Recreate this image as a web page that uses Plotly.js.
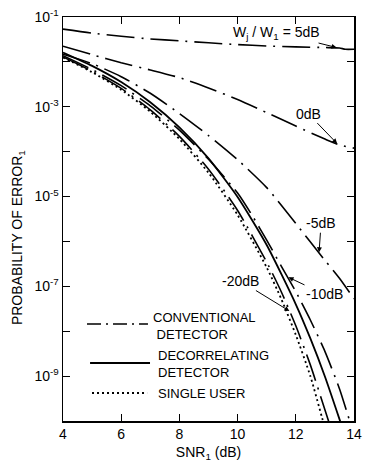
<!DOCTYPE html>
<html>
<head>
<meta charset="utf-8">
<script src="https://cdn.plot.ly/plotly-3.0.1.min.js"></script>
<style>
  html, body { margin: 0; padding: 0; background: #fff; }
  #chart { width: 365px; height: 462px; }
</style>
</head>
<body>
<div id="chart"></div>
<script>
// ---- data ----
const snrConv5 = [4, 5, 6, 7, 8, 9, 10, 11, 12, 13, 13.5, 13.7, 14];
const pConv5 = [5.37e-2, 4.37e-2, 3.72e-2, 3.24e-2, 2.95e-2, 2.66e-2, 2.43e-2, 2.26e-2, 2.16e-2, 2.09e-2, 2.04e-2, 1.91e-2, 1.91e-2];

const snrConv0 = [4, 5, 6, 7, 8, 9, 10, 11, 12, 13, 13.5, 14];
const pConv0 = [2.24e-2, 1.45e-2, 9.55e-3, 6.61e-3, 4.47e-3, 2.63e-3, 1.45e-3, 7.41e-4, 3.72e-4, 1.91e-4, 1.41e-4, 1.20e-4];

const snrConvM5 = [4, 5, 6, 7, 8, 9, 10, 11, 12, 13, 13.5, 14];
const pConvM5 = [1.48e-2, 9.12e-3, 4.68e-3, 2.00e-3, 7.08e-4, 2.29e-4, 6.61e-5, 1.58e-5, 2.51e-6, 3.80e-7, 1.51e-7, 5.25e-8];

const snrConvM10 = [4, 5, 6, 7, 8, 9, 10, 10.5, 11, 11.5, 12, 12.5, 13, 13.5, 13.9];
const pConvM10 = [1.38e-2, 6.76e-3, 2.95e-3, 1.05e-3, 3.02e-4, 6.76e-5, 1.20e-5, 3.80e-6, 1.07e-6, 2.82e-7, 7.59e-8, 1.78e-8, 3.55e-9, 5.25e-10, 7.9e-11];

const snrConvM20 = [4, 5, 6, 7, 8, 9, 10, 11, 11.5, 12, 12.5, 13, 13.15];
const pConvM20 = [1.29e-2, 6.17e-3, 2.57e-3, 8.51e-4, 2.19e-4, 4.07e-5, 4.90e-6, 3.47e-7, 7.59e-8, 1.32e-8, 1.78e-9, 1.78e-10, 8.9e-11];

const snrDecor = [4, 5, 6, 7, 8, 9, 10, 11, 12, 12.5, 13, 13.5, 13.6];
const pDecor = [1.62e-2, 8.13e-3, 3.55e-3, 1.26e-3, 3.47e-4, 7.08e-5, 9.77e-6, 8.32e-7, 3.98e-8, 6.9e-9, 9.8e-10, 1.1e-10, 7.0e-11];

const snrSingle = [4, 5, 6, 7, 8, 9, 10, 11, 11.5, 12, 12.5, 12.9, 13.0];
const pSingle = [1.26e-2, 5.89e-3, 2.40e-3, 7.76e-4, 1.91e-4, 3.39e-5, 3.89e-6, 2.63e-7, 5.25e-8, 8.32e-9, 1.0e-9, 1.2e-10, 7.1e-11];

const xTickVals = [4, 6, 8, 10, 12, 14];
const xTickText = ['4', '6', '8', '10', '12', '14'];
const yTickVals = [1e-9, 1e-7, 1e-5, 1e-3, 1e-1];
const yTickText = ['10<sup>-9</sup>', '10<sup>-7</sup>', '10<sup>-5</sup>', '10<sup>-3</sup>', '10<sup>-1</sup>'];
const yMinorVals = [1e-10, 1e-8, 1e-6, 1e-4, 1e-2];

const curveLabels = ['W<sub>j</sub> / W<sub>1</sub> = 5dB', '0dB', '-5dB', '-10dB', '-20dB'];
const legendTexts = ['CONVENTIONAL<br>\u00A0DETECTOR', 'DECORRELATING<br>DETECTOR', 'SINGLE USER'];
const yTitle = 'PROBABILITY OF ERROR<sub>1</sub>';
const xTitle = 'SNR<sub>1</sub> (dB)';

// ---- styles ----
const FONT = 'Liberation Sans, Arial, sans-serif';
const convLine = {color: '#000', width: 1.6, dash: '28px,7px,2px,7px', shape: 'spline', smoothing: 0.6};

function conv(x, y, name) {
  return {x: x, y: y, type: 'scatter', mode: 'lines', name: name, line: convLine, showlegend: false, hoverinfo: 'skip'};
}

const traces = [
  conv(snrConv5, pConv5, 'Conventional 5dB'),
  conv(snrConv0, pConv0, 'Conventional 0dB'),
  conv(snrConvM5, pConvM5, 'Conventional -5dB'),
  conv(snrConvM10, pConvM10, 'Conventional -10dB'),
  conv(snrConvM20, pConvM20, 'Conventional -20dB'),
  {x: snrDecor, y: pDecor, type: 'scatter', mode: 'lines', name: 'Decorrelating detector',
   line: {color: '#000', width: 1.8, shape: 'spline', smoothing: 0.6}, showlegend: false, hoverinfo: 'skip'},
  {x: snrSingle, y: pSingle, type: 'scatter', mode: 'lines', name: 'Single user',
   line: {color: '#000', width: 1.8, dash: '2px,3px', shape: 'spline', smoothing: 0.6}, showlegend: false, hoverinfo: 'skip'}
];

const labelFont = {family: FONT, size: 14, color: '#000'};
function arrowNote(x, logy, text, ax, ay) {
  return {x: x, y: logy, xref: 'x', yref: 'y', text: text, showarrow: true,
          arrowhead: 2, arrowsize: 1, arrowwidth: 1, arrowcolor: '#000', standoff: 0,
          ax: ax, ay: ay, font: labelFont};
}
function legendText(x, y, text) {
  return {x: x, y: y, xref: 'paper', yref: 'paper', text: text, showarrow: false,
          xanchor: 'left', yanchor: 'middle', align: 'left',
          font: {family: FONT, size: 13, color: '#000'}};
}

const annotations = [
  arrowNote(13.4, -1.68, curveLabels[0], -60, -15),
  arrowNote(13.42, -3.82, curveLabels[1], -29, -30),
  arrowNote(12.8, -6.24, curveLabels[2], 2, -29),
  arrowNote(11.75, -6.8, curveLabels[3], 36, 17),
  arrowNote(11.78, -7.55, curveLabels[4], -49, -30),
  legendText(0.304, 0.235, legendTexts[0]),
  legendText(0.318, 0.140, legendTexts[1]),
  legendText(0.318, 0.067, legendTexts[2]),
  {x: -0.155, y: 0.455, xref: 'paper', yref: 'paper', text: yTitle, showarrow: false,
   textangle: -90, xanchor: 'center', yanchor: 'middle', font: labelFont}
];

const shapes = [
  {type: 'line', xref: 'paper', yref: 'paper', x0: 0.0825, x1: 0.292, y0: 0.240, y1: 0.240,
   line: {color: '#000', width: 1.6, dash: '14px,5px,2px,5px'}},
  {type: 'line', xref: 'paper', yref: 'paper', x0: 0.093, x1: 0.299, y0: 0.1436, y1: 0.1436,
   line: {color: '#000', width: 1.8}},
  {type: 'line', xref: 'paper', yref: 'paper', x0: 0.0997, x1: 0.289, y0: 0.0693, y1: 0.0693,
   line: {color: '#000', width: 1.8, dash: '2px,3px'}}
];

const nb = '\u00A0';
const layout = {
  width: 365, height: 462,
  margin: {l: 63, r: 11, t: 17, b: 41, pad: 0},
  paper_bgcolor: '#fff', plot_bgcolor: '#fff',
  font: {family: FONT, size: 14, color: '#000'},
  showlegend: false,
  xaxis: {
    range: [4, 14], tickmode: 'array', tickvals: xTickVals, ticktext: xTickText,
    ticks: 'inside', ticklen: 7, tickwidth: 1.2, tickcolor: '#000',
    showline: true, linecolor: '#000', linewidth: 1.5, mirror: 'ticks',
    showgrid: false, zeroline: false, tickfont: {family: FONT, size: 14},
    title: {text: nb.repeat(6) + xTitle, font: {family: FONT, size: 14}, standoff: 6}
  },
  yaxis: {
    type: 'log', range: [-10, -1], tickmode: 'array', tickvals: yTickVals, ticktext: yTickText,
    ticks: 'inside', ticklen: 7, tickwidth: 1.2, tickcolor: '#000',
    minor: {tickmode: 'array', tickvals: yMinorVals, ticks: 'inside', ticklen: 7, tickwidth: 1.2, tickcolor: '#000', showgrid: false},
    showline: true, linecolor: '#000', linewidth: 1.5, mirror: 'ticks',
    showgrid: false, zeroline: false, tickfont: {family: FONT, size: 14}
  },
  annotations: annotations,
  shapes: shapes
};

Plotly.newPlot('chart', traces, layout, {displayModeBar: false, staticPlot: true});
</script>
</body>
</html>
